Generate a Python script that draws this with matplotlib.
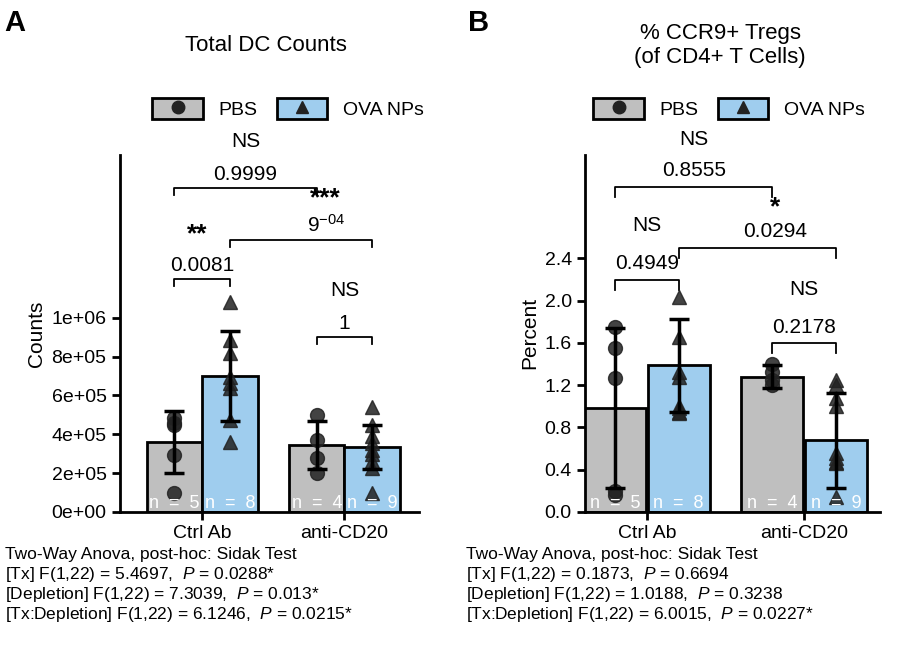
import matplotlib
matplotlib.use("Agg")
import matplotlib.pyplot as plt
import numpy as np
from matplotlib.patches import Patch
from matplotlib.lines import Line2D
from matplotlib.legend_handler import HandlerTuple

plt.rcParams['font.family'] = ['Liberation Sans', 'DejaVu Sans']
plt.rcParams['mathtext.fontset'] = 'custom'
plt.rcParams['mathtext.it'] = 'Liberation Sans:italic'
plt.rcParams['mathtext.rm'] = 'Liberation Sans'

groups = ['Ctrl Ab', 'anti-CD20']
gray = '#bfbfbf'
blue = '#9fcdee'

# Panel A: Total DC counts
a_means = {'PBS': [3.6e5, 3.45e5], 'OVA': [7.0e5, 3.35e5]}
a_sd = {'PBS': [1.6e5, 1.25e5], 'OVA': [2.3e5, 1.15e5]}
a_pts = {'PBS': [[4.85e5, 4.6e5, 4.48e5, 2.94e5, 1.0e5], [5.0e5, 3.7e5, 2.8e5, 2.0e5]],
         'OVA': [[1.08e6, 8.87e5, 8.2e5, 6.96e5, 6.65e5, 6.4e5, 4.74e5, 3.6e5],
                 [5.4e5, 4.5e5, 3.9e5, 3.55e5, 3.2e5, 3.0e5, 2.6e5, 2.25e5, 1.0e5]]}
a_n = {'PBS': [5, 4], 'OVA': [8, 9]}

# Panel B: % CCR9+ Tregs
b_means = {'PBS': [0.985, 1.28], 'OVA': [1.39, 0.68]}
b_sd = {'PBS': [0.76, 0.11], 'OVA': [0.44, 0.45]}
b_pts = {'PBS': [[1.75, 1.55, 1.27, 0.2, 0.16], [1.40, 1.32, 1.25, 1.20]],
         'OVA': [[2.03, 1.66, 1.32, 1.28, 1.0, 0.98, 0.95, 0.94],
                 [1.25, 1.2, 1.08, 1.0, 0.56, 0.51, 0.47, 0.46, 0.14]]}
b_n = {'PBS': [5, 4], 'OVA': [8, 9]}

fig = plt.figure(figsize=(9, 6.48), dpi=100)
axA = fig.add_axes([0.133, 0.21, 0.333, 0.551])
axB = fig.add_axes([0.65, 0.21, 0.328, 0.551])


def draw_panel(ax, centers, off, width, means, sd, pts, ns):
    xs = {'PBS': [c - off for c in centers], 'OVA': [c + off for c in centers]}
    for key, col, mk in [('PBS', gray, 'o'), ('OVA', blue, '^')]:
        ax.bar(xs[key], means[key], width=width, color=col, edgecolor='black', linewidth=2, zorder=1)
        for i, x in enumerate(xs[key]):
            ax.plot([x] * len(pts[key][i]), pts[key][i], mk, color='#222222', alpha=0.85,
                    markersize=10, zorder=3, clip_on=False)
            ax.text(x, 0, 'n  =  %d' % ns[key][i], color='white', ha='center', va='bottom',
                    fontsize=13, zorder=4)
        ax.errorbar(xs[key], means[key], yerr=sd[key], fmt='none', ecolor='black',
                     elinewidth=2.5, capsize=7, capthick=2.5, zorder=4)
    ax.set_xticks(centers)
    ax.set_xticklabels(groups, fontsize=15)
    ax.set_xlim(0, 4)
    for s in ['top', 'right']:
        ax.spines[s].set_visible(False)
    for s in ['left', 'bottom']:
        ax.spines[s].set_linewidth(2)
    ax.tick_params(width=2, length=6, labelsize=14)
    return xs


def bracket(ax, x1, x2, y, h, label, top=None, top_dy=None, fs=15, tx=None):
    ax.plot([x1, x1, x2, x2], [y - h, y, y, y - h], color='black', lw=1.3, clip_on=False)
    tx = (x1 + x2) / 2 if tx is None else tx
    ax.text(tx, y + h * 0.6, label, ha='center', va='bottom', fontsize=fs)
    if top is not None:
        star = '*' in top
        ax.text(tx, y + top_dy, top, ha='center', va='bottom', fontsize=19 if star else fs,
                fontweight='bold' if star else 'normal')


xa = draw_panel(axA, [1.1, 3.0], 0.37, 0.74, a_means, a_sd, a_pts, a_n)
axA.set_ylim(0, 1.84e6)
axA.set_yticks(np.arange(0, 1.01e6, 2e5))
axA.set_yticklabels(['0e+00', '2e+05', '4e+05', '6e+05', '8e+05', '1e+06'])
axA.set_ylabel('Counts', fontsize=15)
hA = 0.35e5
bracket(axA, xa['PBS'][1], xa['OVA'][1], 9.0e5, hA, '1', 'NS', 1.9e5)
bracket(axA, xa['PBS'][0], xa['OVA'][0], 1.2e6, hA, '0.0081')
axA.text(xa['PBS'][0] + 0.3, 1.37e6, '**', ha='center', va='bottom', fontsize=19, fontweight='bold')
bracket(axA, xa['OVA'][0], xa['OVA'][1], 1.40e6, hA, '9$^{-04}$', '***', 1.55e5, tx=2.75)
bracket(axA, xa['PBS'][0], xa['PBS'][1], 1.67e6, hA, '0.9999', 'NS', 1.9e5)

xb = draw_panel(axB, [0.84, 2.97], 0.43, 0.84, b_means, b_sd, b_pts, b_n)
axB.set_ylim(0, 3.38)
axB.set_yticks(np.arange(0, 2.41, 0.4))
axB.set_yticklabels(['%.1f' % v for v in np.arange(0, 2.41, 0.4)])
axB.set_ylabel('Percent', fontsize=15)
bracket(axB, xb['PBS'][1], xb['OVA'][1], 1.6, 0.1, '0.2178', 'NS', 0.42)
bracket(axB, xb['PBS'][0], xb['OVA'][0], 2.2, 0.1, '0.4949', 'NS', 0.42)
bracket(axB, xb['OVA'][0], xb['OVA'][1], 2.5, 0.1, '0.0294', '*', 0.27, tx=2.58)
bracket(axB, xb['PBS'][0], xb['PBS'][1], 3.08, 0.1, '0.8555', 'NS', 0.36)

fig.text(0.005, 0.965, 'A', fontsize=21, fontweight='bold', va='center')
fig.text(0.52, 0.965, 'B', fontsize=21, fontweight='bold', va='center')
fig.text(0.295, 0.93, 'Total DC Counts', fontsize=16, ha='center', va='center')
fig.text(0.80, 0.93, '% CCR9+ Tregs\n(of CD4+ T Cells)', fontsize=16, ha='center', va='center')

handles = [(Patch(facecolor=gray, edgecolor='black', lw=2), Line2D([], [], marker='o', color='#222222', ls='none', markersize=9)),
           (Patch(facecolor=blue, edgecolor='black', lw=2), Line2D([], [], marker='^', color='#222222', ls='none', markersize=9))]
for cx in [0.32, 0.81]:
    fig.legend(handles, ['PBS', 'OVA NPs'], loc='center', bbox_to_anchor=(cx, 0.832), ncol=2,
               frameon=False, fontsize=14, handler_map={tuple: HandlerTuple(ndivide=1)},
               handlelength=2.6, handleheight=1.3, columnspacing=1.0)

notes = [
    ['Two-Way Anova, post-hoc: Sidak Test',
     '[Tx] F(1,22) = 5.4697,  $P$ = 0.0288*',
     '[Depletion] F(1,22) = 7.3039,  $P$ = 0.013*',
     '[Tx:Depletion] F(1,22) = 6.1246,  $P$ = 0.0215*'],
    ['Two-Way Anova, post-hoc: Sidak Test',
     '[Tx] F(1,22) = 0.1873,  $P$ = 0.6694',
     '[Depletion] F(1,22) = 1.0188,  $P$ = 0.3238',
     '[Tx:Depletion] F(1,22) = 6.0015,  $P$ = 0.0227*'],
]
for x0, lines in zip([0.006, 0.518], notes):
    for i, line in enumerate(lines):
        fig.text(x0, 0.145 - i * 0.031, line, fontsize=12.5, va='center')

fig.savefig('out.png', dpi=100)
